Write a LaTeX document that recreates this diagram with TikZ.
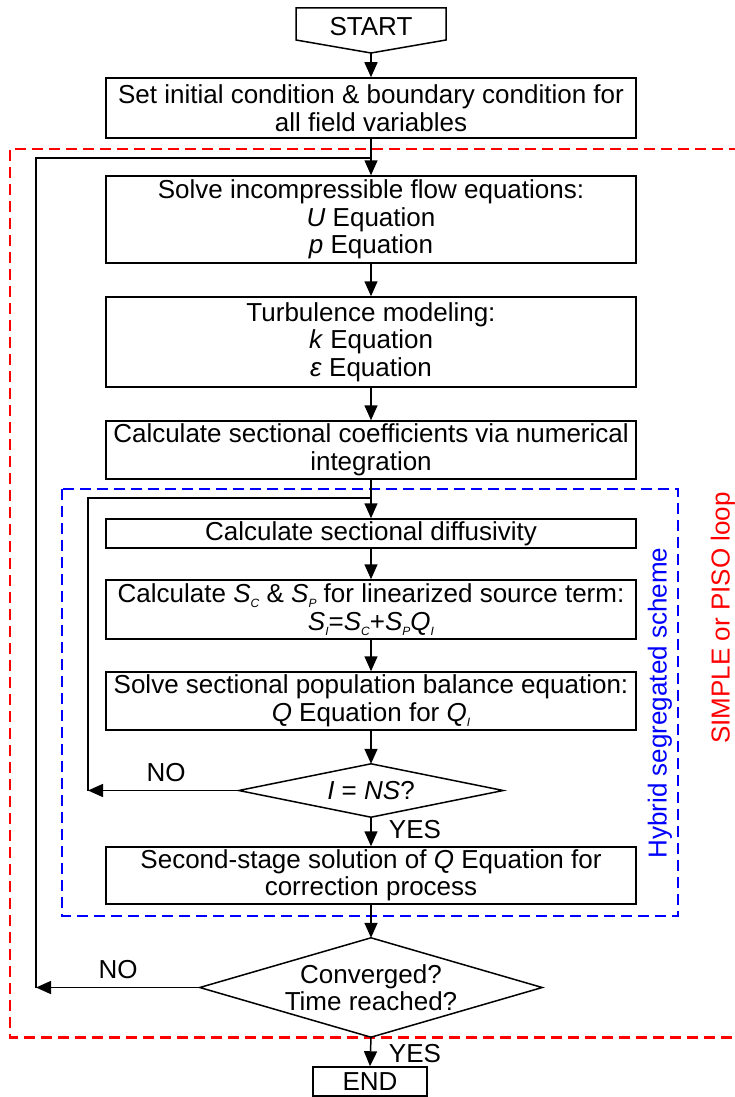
\documentclass[tikz,border=0pt]{standalone}
\usepackage{fontspec}
\setmainfont{Liberation Sans}
\usetikzlibrary{arrows.meta,calc}
\newcommand{\sbs}[1]{\raisebox{-0.35ex}{\fontsize{12}{12}\selectfont\textit{#1}}}
\begin{document}
\begin{tikzpicture}[x=1pt,y=-1pt,
  every node/.style={font={\fontsize{26}{27.5}\selectfont},inner sep=0pt},
  box/.style={draw,line width=1.5pt,minimum width=530pt,align=center},
  dmd/.style={draw=none,align=center},
  line/.style={line width=1.5pt},
  arr/.style={line width=1.5pt,-{Triangle[length=15pt,width=13pt]}},
  reddash/.style={draw=red,line width=2.4pt,dash pattern=on 11pt off 6pt},
  bluedash/.style={draw=blue,line width=2.4pt,dash pattern=on 11pt off 6pt},
  lbl/.style={}]
\useasboundingbox (0,0) rectangle (735,1097);

% dashed frames
\draw[reddash] (740,149) -| (10,1037.5) -- (740,1037.5);
\draw[bluedash] (62,489) rectangle (678,916);

% START
\node (start) at (371,27) {START};
\draw[line] (296,8) -- (446,8) -- (446,40) -- (371,53) -- (296,40) -- cycle;
\coordinate (stip) at (371,53);

% boxes
\node[box,minimum height=60pt] (b1) at (371,108) {Set initial condition \& boundary condition for\\all field variables};
\node[box,minimum height=87pt] (b2) at (371,219.5) {Solve incompressible flow equations:\\\textit{U} Equation\\\textit{p} Equation};
\node[box,minimum height=90pt] (b3) at (371,342) {Turbulence modeling:\\\textit{k} Equation\\\textit{ε} Equation};
\node[box,minimum height=58pt] (b4) at (371,450) {Calculate sectional coefficients via numerical\\integration};
\node[box,minimum height=29pt] (b5) at (371,533.5) {Calculate sectional diffusivity};
\node[box,minimum height=59pt] (b6) at (371,609.5) {Calculate \textit{S}\sbs{C} \& \textit{S}\sbs{P} for linearized source term:\\\textit{S}\sbs{I}=\textit{S}\sbs{C}+\textit{S}\sbs{P}\textit{Q}\sbs{I}};
\node[box,minimum height=58pt] (b7) at (371,701) {Solve sectional population balance equation:\\\textit{Q} Equation for \textit{Q}\sbs{I}};
\node[dmd,minimum width=264pt,minimum height=53pt] (d1) at (371,790.5) {\textit{I} = \textit{NS}?};
\draw[line] (d1.north) -- (d1.east) -- (d1.south) -- (d1.west) -- cycle;
\node[box,minimum height=57pt] (b8) at (371,875.5) {Second-stage solution of \textit{Q} Equation for\\correction process};
\node[dmd,minimum width=342pt,minimum height=99pt] (d2) at (371,987.5) {Converged?\\Time reached?};
\draw[line] (d2.north) -- (d2.east) -- (d2.south) -- (d2.west) -- cycle;
\node[draw,line width=1.5pt,minimum width=114pt,minimum height=29pt] (end) at (370,1081.5) {END};

% junction coordinates
\coordinate (oJ) at (371,158);
\coordinate (oT) at (36,158);
\coordinate (oL) at (36,987.5);
\coordinate (iJ) at (371,498);
\coordinate (iT) at (88,498);
\coordinate (iL) at (88,790.5);

% main flow
\draw[arr] (stip) -- (b1.north);
\draw[arr] (b1.south) -- (b2.north);
\draw[arr] (b2.south) -- (b3.north);
\draw[arr] (b3.south) -- (b4.north);
\draw[arr] (b4.south) -- (b5.north);
\draw[arr] (b5.south) -- (b6.north);
\draw[arr] (b6.south) -- (b7.north);
\draw[arr] (b7.south) -- (d1.north);
\draw[arr] (d1.south) -- (b8.north);
\draw[arr] (b8.south) -- (d2.north);
\draw[arr] (d2.south) -- (end.north);

% loops
\draw[arr] (d1.west) -- (iL);
\draw[line] (iL) -- (iT) -- (iJ);
\draw[arr] (d2.west) -- (oL);
\draw[line] (oL) -- (oT) -- (oJ);

% labels
\node[lbl] (no1) at (166,773) {NO};
\node[lbl] (no2) at (118,970) {NO};
\node[lbl] (yes1) at (415,830) {YES};
\node[lbl] (yes2) at (415,1054) {YES};
\node[rotate=90,text=blue] (hyb) at (660,703) {Hybrid segregated scheme};
\node[rotate=90,text=red] (simple) at (723,618) {SIMPLE or PISO loop};
\end{tikzpicture}
\end{document}
